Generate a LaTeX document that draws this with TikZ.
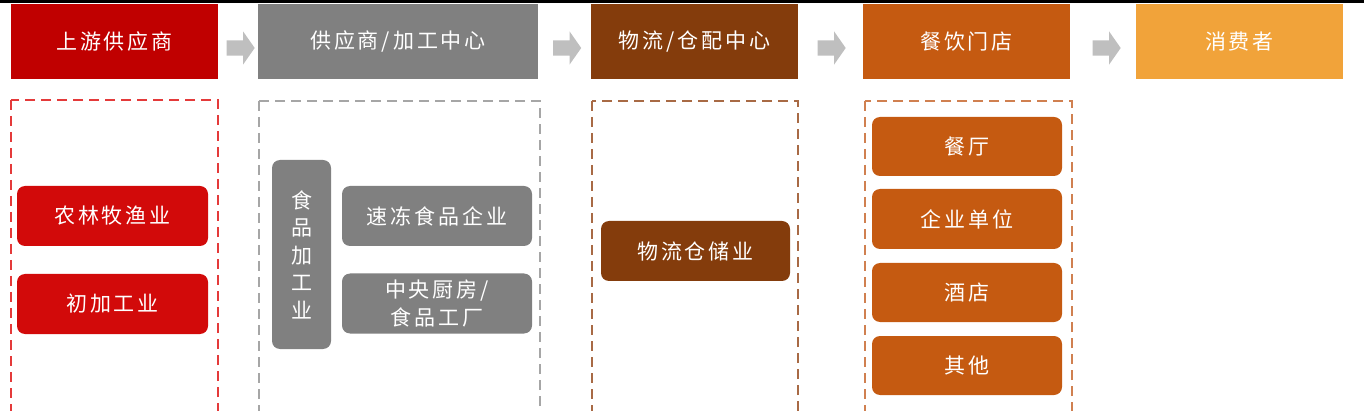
\documentclass[tikz,border=0pt]{standalone}
\usepackage{fontspec}
\usepackage{xcolor}
\usetikzlibrary{shapes.arrows}
\newfontfamily\cjk[LetterSpace=14]{Noto Sans CJK SC}

\definecolor{upred}{HTML}{C00000}
\definecolor{upredin}{HTML}{D20A0A}
\definecolor{upreddash}{HTML}{E43A3A}
\definecolor{procgray}{HTML}{808080}
\definecolor{procdash}{HTML}{A6A6A6}
\definecolor{logbrown}{HTML}{843C0C}
\definecolor{logdash}{HTML}{A86A45}
\definecolor{shoporange}{HTML}{C55A11}
\definecolor{shopdash}{HTML}{D08050}
\definecolor{userorange}{HTML}{F1A33A}
\definecolor{flowgray}{HTML}{BFBFBF}

\begin{document}
\begin{tikzpicture}[x=1pt, y=-1pt,
    txt/.style={text=white, font=\cjk\fontsize{21}{27.5}\selectfont, align=center, inner sep=0pt},
    headbox/.style={txt, rectangle, minimum width=207pt, minimum height=75pt},
    itembox/.style={txt, rectangle, rounded corners=8pt, minimum width=190pt, minimum height=60pt},
    dashbox/.style={line width=1.8pt, dash pattern=on 10pt off 6pt},
    flowarrow/.style={single arrow, fill=flowgray, draw=none, inner sep=7.5pt,
        minimum height=28pt, single arrow head extend=9pt, single arrow tip angle=110}]
    \useasboundingbox (0,0) rectangle (1364,411);
    \clip (0,0) rectangle (1364,411);

    % top rule
    \draw[line width=3.5pt] (0,1.5) -- (1364,1.5);

    % header chain
    \node[headbox, fill=upred] (up) at (114.5,41.5) {上游供应商};
    \node[headbox, fill=procgray, minimum width=280pt] (proc) at (398,41.5) {供应商/加工中心};
    \node[headbox, fill=logbrown] (log) at (694.5,41.5) {物流/仓配中心};
    \node[headbox, fill=shoporange] (shop) at (966.5,41.5) {餐饮门店};
    \node[headbox, fill=userorange] (user) at (1239.5,41.5) {消费者};

    \node[flowarrow] (f1) at (238,48) {};
    \node[flowarrow] (f2) at (564.5,48) {};
    \node[flowarrow] (f3) at (829,48) {};
    \node[flowarrow] (f4) at (1104,48) {};

    % dashed groups
    \draw[dashbox, upreddash] (11,100) rectangle (218,425);
    \draw[dashbox, procdash] (259,101) rectangle (540,425);
    \draw[dashbox, logdash] (592,101) rectangle (798,425);
    \draw[dashbox, shopdash] (865,101) rectangle (1072,425);

    % upstream
    \node[itembox, fill=upredin, minimum width=191pt] (farm) at (112.5,216) {农林牧渔业};
    \node[itembox, fill=upredin, minimum width=191pt] (prim) at (112.5,304) {初加工业};

    % processing
    \node[itembox, fill=procgray, minimum width=59pt, minimum height=189pt] (food) at (301.5,254.5) {食\\品\\加\\工\\业};
    \node[itembox, fill=procgray] (frozen) at (437,216) {速冻食品企业};
    \node[itembox, fill=procgray] (kitchen) at (437,303.5) {中央厨房/\\食品工厂};

    % logistics
    \node[itembox, fill=logbrown, minimum width=189pt] (store) at (695.5,251) {物流仓储业};

    % shops
    \node[itembox, fill=shoporange, minimum height=59pt] (rest) at (967,146.5) {餐厅};
    \node[itembox, fill=shoporange] (unit) at (967,219) {企业单位};
    \node[itembox, fill=shoporange, minimum height=59pt] (hotel) at (967,292.5) {酒店};
    \node[itembox, fill=shoporange, minimum height=59pt] (other) at (967,365.5) {其他};
\end{tikzpicture}
\end{document}
